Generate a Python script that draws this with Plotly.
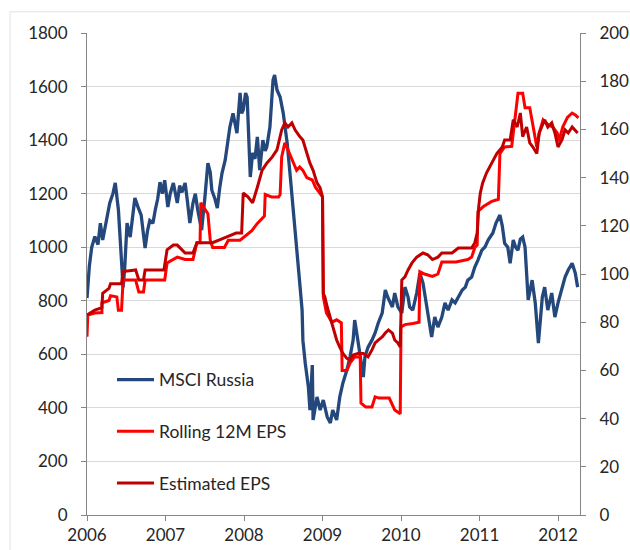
import plotly.graph_objects as go

# ---------------- data (decimal years) ----------------
msci_x = [2006.00, 2006.03, 2006.06, 2006.10, 2006.14, 2006.17, 2006.20, 2006.25, 2006.29, 2006.33,
          2006.36, 2006.40, 2006.43, 2006.46, 2006.48, 2006.51, 2006.55, 2006.58, 2006.61, 2006.65,
          2006.69, 2006.74, 2006.77, 2006.80, 2006.84, 2006.87, 2006.90, 2006.93, 2006.96, 2006.99,
          2007.03, 2007.06, 2007.10, 2007.15, 2007.18, 2007.21, 2007.25, 2007.28, 2007.31, 2007.35,
          2007.38, 2007.41, 2007.46, 2007.50, 2007.54, 2007.57, 2007.59, 2007.63, 2007.66, 2007.69,
          2007.72, 2007.76, 2007.79, 2007.82, 2007.86, 2007.89, 2007.91, 2007.95, 2007.97, 2007.99,
          2008.02, 2008.04, 2008.06, 2008.08, 2008.11, 2008.14, 2008.17, 2008.20, 2008.24, 2008.27,
          2008.29, 2008.33, 2008.37, 2008.39, 2008.42, 2008.46, 2008.50, 2008.55, 2008.59, 2008.62,
          2008.65, 2008.69, 2008.71, 2008.74, 2008.75, 2008.78, 2008.82, 2008.84, 2008.87, 2008.88,
          2008.93, 2008.97, 2009.01, 2009.06, 2009.10, 2009.13, 2009.18, 2009.22, 2009.26, 2009.31,
          2009.35, 2009.39, 2009.41, 2009.45, 2009.50, 2009.52, 2009.54, 2009.58, 2009.63, 2009.67,
          2009.71, 2009.76, 2009.80, 2009.83, 2009.89, 2009.92, 2009.96, 2010.01, 2010.05, 2010.09,
          2010.11, 2010.15, 2010.20, 2010.24, 2010.28, 2010.33, 2010.37, 2010.39, 2010.43, 2010.47,
          2010.52, 2010.56, 2010.60, 2010.65, 2010.69, 2010.73, 2010.78, 2010.82, 2010.85, 2010.90,
          2010.94, 2010.98, 2011.03, 2011.07, 2011.11, 2011.17, 2011.21, 2011.26, 2011.29, 2011.32,
          2011.36, 2011.39, 2011.43, 2011.46, 2011.49, 2011.52, 2011.55, 2011.58, 2011.60, 2011.62,
          2011.67, 2011.71, 2011.75, 2011.80, 2011.83, 2011.87, 2011.92, 2011.96, 2012.00, 2012.05,
          2012.09, 2012.13, 2012.18, 2012.22, 2012.25]
msci_y = [810, 930, 1000, 1040, 1010, 1090, 1027, 1100, 1165, 1200,
          1240, 1140, 1000, 850, 920, 1090, 1038, 1100, 1184, 1150,
          1120, 997, 1060, 1100, 1090, 1140, 1180, 1243, 1200, 1250,
          1150, 1200, 1240, 1165, 1230, 1205, 1240, 1170, 1090, 1165,
          1200, 1140, 1064, 1180, 1314, 1280, 1213, 1180, 1146, 1220,
          1277, 1325, 1400, 1449, 1500, 1460, 1426, 1576, 1500, 1512,
          1576, 1560, 1389, 1262, 1352, 1330, 1412, 1288, 1400, 1360,
          1374, 1449, 1624, 1643, 1587, 1561, 1500, 1389, 1262, 1165,
          1090, 963, 866, 765, 653, 567, 478, 392, 560, 355,
          441, 392, 429, 366, 344, 392, 355, 441, 493, 541,
          590, 653, 728, 653, 541, 515, 590, 627, 653, 680,
          717, 754, 840, 814, 777, 829, 777, 754, 851, 814,
          777, 765, 829, 903, 866, 777, 702, 665, 739, 702,
          739, 792, 765, 803, 792, 814, 840, 851, 877, 889,
          926, 952, 989, 1001, 1027, 1053, 1090, 1120, 1080, 1015,
          1000, 940, 1027, 1000, 989, 1030, 1038, 1000, 889, 803,
          877, 792, 642, 814, 851, 765, 829, 739, 792, 851,
          889, 915, 940, 903, 851]

rolling_x = [2006.00, 2006.01, 2006.10, 2006.19, 2006.19, 2006.28, 2006.30, 2006.38, 2006.40, 2006.44,
             2006.46, 2006.62, 2006.66, 2006.72, 2006.74, 2006.99, 2007.02, 2007.10, 2007.15, 2007.25,
             2007.35, 2007.40, 2007.44, 2007.45, 2007.50, 2007.54, 2007.57, 2007.60, 2007.75, 2007.80,
             2007.95, 2008.00, 2008.10, 2008.17, 2008.23, 2008.26, 2008.27, 2008.35, 2008.44, 2008.46,
             2008.48, 2008.52, 2008.56, 2008.61, 2008.67, 2008.71, 2008.75, 2008.80, 2008.87, 2008.91,
             2008.97, 2009.00, 2009.01, 2009.05, 2009.12, 2009.18, 2009.24, 2009.25, 2009.31, 2009.35,
             2009.41, 2009.48, 2009.49, 2009.55, 2009.63, 2009.67, 2009.72, 2009.85, 2009.92, 2009.98,
             2009.99, 2010.00, 2010.05, 2010.15, 2010.23, 2010.24, 2010.30, 2010.40, 2010.47, 2010.52,
             2010.70, 2010.85, 2010.90, 2010.94, 2010.97, 2010.98, 2011.05, 2011.15, 2011.24, 2011.26,
             2011.32, 2011.41, 2011.45, 2011.49, 2011.55, 2011.58, 2011.64, 2011.68, 2011.73, 2011.76,
             2011.81, 2011.87, 2011.93, 2011.99, 2012.01, 2012.06, 2012.12, 2012.18, 2012.22, 2012.26]
rolling_y = [74, 83, 83.8, 84, 88, 89, 91, 90.5, 85, 85,
             97.5, 97.5, 92.5, 92.5, 97.5, 97.5, 104.6, 106, 107, 106,
             106, 113, 113, 129.5, 127, 125, 114, 111, 111, 114,
             114, 115.4, 118, 121, 123, 124, 133, 132, 132, 133,
             148.6, 154.4, 151.5, 147.3, 143, 144.4, 143, 140, 139, 136,
             133.6, 132, 90.5, 83.8, 80, 81, 79.7, 60, 60, 63,
             65.6, 65.6, 46.5, 44.8, 44.8, 49, 48.5, 48.5, 43.6, 42.3,
             42, 78, 79, 79.5, 80, 101, 100, 99, 100, 105,
             105, 106, 107, 111, 112, 126, 128, 130, 131, 150,
             152.7, 153, 165, 175, 175, 169, 169, 161, 152.7, 158.5,
             164, 162, 161, 158.5, 155, 161, 165, 166.8, 166, 164.8]

est_x = [2006.00, 2006.10, 2006.19, 2006.20, 2006.28, 2006.30, 2006.38, 2006.44, 2006.46, 2006.62,
         2006.66, 2006.72, 2006.74, 2006.98, 2007.02, 2007.10, 2007.15, 2007.25, 2007.35, 2007.40,
         2007.55, 2007.60, 2007.75, 2007.90, 2007.97, 2007.99, 2008.05, 2008.11, 2008.17, 2008.23,
         2008.29, 2008.36, 2008.42, 2008.48, 2008.52, 2008.56, 2008.61, 2008.65, 2008.71, 2008.75,
         2008.80, 2008.84, 2008.88, 2008.93, 2008.97, 2009.00, 2009.01, 2009.03, 2009.06, 2009.10,
         2009.14, 2009.18, 2009.22, 2009.26, 2009.31, 2009.35, 2009.39, 2009.45, 2009.52, 2009.58,
         2009.63, 2009.67, 2009.71, 2009.76, 2009.80, 2009.84, 2009.89, 2009.92, 2009.96, 2009.99,
         2010.01, 2010.05, 2010.09, 2010.14, 2010.20, 2010.28, 2010.34, 2010.40, 2010.47, 2010.52,
         2010.65, 2010.73, 2010.90, 2010.94, 2010.97, 2010.99, 2011.01, 2011.04, 2011.09, 2011.16,
         2011.22, 2011.29, 2011.32, 2011.39, 2011.43, 2011.48, 2011.52, 2011.55, 2011.60, 2011.64,
         2011.68, 2011.73, 2011.76, 2011.83, 2011.87, 2011.92, 2011.96, 2012.00, 2012.05, 2012.09,
         2012.13, 2012.18, 2012.22, 2012.25]
est_y = [83, 85, 86, 92, 94, 96, 96, 96, 101, 101.7,
         97.5, 97.5, 101.7, 101.7, 110, 112, 112, 108.7, 108.7, 113,
         113, 113, 115, 117, 117, 133.6, 132, 129.5, 136, 143,
         146, 148.6, 151.5, 159.8, 162.7, 161, 162.7, 159.8, 157, 155.6,
         150.2, 146, 143, 137.8, 135.7, 132, 92, 90.5, 86.3, 82,
         76.8, 72.6, 69.7, 67, 65, 64.3, 66.4, 67, 67, 65.6,
         68.5, 71.4, 72.6, 73.9, 75.5, 76.8, 75.5, 72.6, 71.4, 69.7,
         97.5, 98.8, 101.7, 104.6, 107, 108.7, 108, 106, 107, 108.7,
         108.7, 110.8, 110.8, 113, 117, 128, 133.6, 137.8, 142, 146,
         150, 152.7, 155.6, 155.6, 164, 161, 166.8, 157, 161, 154.4,
         152.7, 150, 158.5, 164, 161, 162.7, 158.5, 152.7, 155.6, 159.8,
         158.5, 161, 159.8, 158.5]

year_ticks = [2006, 2007, 2008, 2009, 2010, 2011, 2012]
left_ticks = [0, 200, 400, 600, 800, 1000, 1200, 1400, 1600, 1800]
right_ticks = [0, 20, 40, 60, 80, 100, 120, 140, 160, 180, 200]

FONT = "Lato, 'Open Sans', sans-serif"
TXT = "#262626"
AXC = "#868686"

fig = go.Figure()
fig.add_trace(go.Scatter(x=msci_x, y=msci_y, mode="lines", name="MSCI Russia",
                         line=dict(color="#24487c", width=3.3), legendgroup="a"))
fig.add_trace(go.Scatter(x=rolling_x, y=rolling_y, mode="lines", name="Rolling 12M EPS",
                         line=dict(color="#ff0000", width=3), yaxis="y2", legendgroup="b"))
fig.add_trace(go.Scatter(x=est_x, y=est_y, mode="lines", name="Estimated EPS",
                         line=dict(color="#c00000", width=3), yaxis="y2", legendgroup="c"))

fig.update_layout(
    template="none",
    width=630, height=550,
    margin=dict(l=87, r=50, t=33, b=35, autoexpand=False),
    paper_bgcolor="white", plot_bgcolor="white",
    font=dict(family=FONT, size=17, color=TXT),
    showlegend=True,
    legend=dict(x=0.0507, y=0.318, xanchor="left", yanchor="top", itemwidth=37,
                bgcolor="rgba(0,0,0,0)", borderwidth=0, tracegroupgap=26,
                font=dict(family=FONT, size=17.5, color=TXT)),
    xaxis=dict(range=[2006, 2012.28], tickvals=year_ticks, ticktext=[str(v) for v in year_ticks],
               showgrid=False, zeroline=False, showline=True, linecolor=AXC, linewidth=1,
               ticks="outside", ticklen=5, tickcolor=AXC, automargin=False),
    yaxis=dict(range=[0, 1800], tickvals=left_ticks, showgrid=True, gridcolor="#d9d9d9",
               gridwidth=1.3, zeroline=False, showline=True, linecolor=AXC, linewidth=1,
               ticks="outside", ticklen=5, tickcolor=AXC, ticklabelstandoff=10, automargin=False),
    yaxis2=dict(range=[0, 200], tickvals=right_ticks, overlaying="y", side="right",
                showgrid=False, zeroline=False, showline=True, linecolor=AXC, linewidth=1,
                ticks="outside", ticklen=5, tickcolor=AXC, ticklabelstandoff=10, automargin=False),
    shapes=[dict(type="rect", xref="paper", yref="paper", x0=-0.156, x1=1.2, y0=-0.2, y1=1.044,
                 line=dict(color="#e3e3e3", width=1), fillcolor="rgba(0,0,0,0)", layer="below")],
)

fig.write_html("out.html", config={"displayModeBar": False},
               post_script="document.body.style.margin='0px';document.body.style.overflow='hidden';")
